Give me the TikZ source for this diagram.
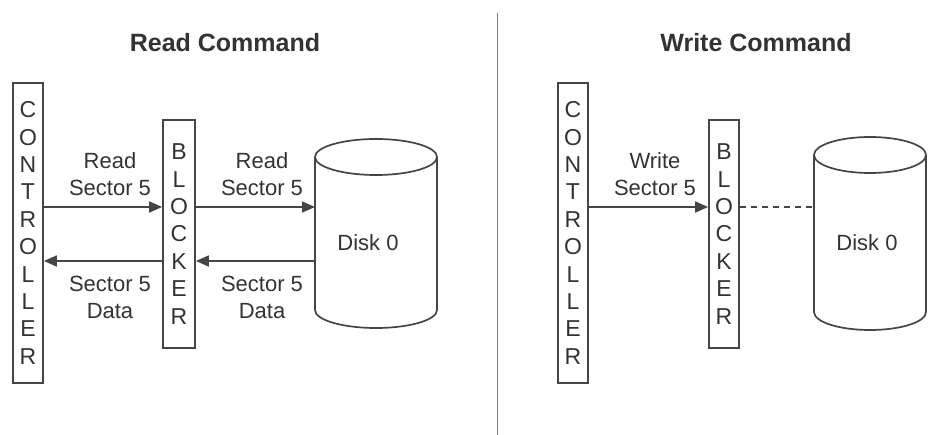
\documentclass[tikz,border=0pt]{standalone}
\usepackage{fontspec}
\setmainfont{Liberation Sans}
\usetikzlibrary{arrows.meta}
\definecolor{ink}{HTML}{333333}
\definecolor{lineink}{HTML}{454545}
\begin{document}
\begin{tikzpicture}[x=1pt,y=-1pt,
  ln/.style={draw=lineink,line width=1.7pt},
  arr/.style={ln,-{Triangle[length=13pt,width=11pt]}},
  title/.style={text=ink,font=\fontsize{25}{30}\selectfont\bfseries,inner sep=0pt},
  lbl/.style={text=ink,font=\fontsize{22}{27}\selectfont,align=center,inner sep=0pt},
  vbox/.style={draw=lineink,line width=1.7pt,minimum width=30pt,inner sep=0pt,text=ink,
     font=\fontsize{23}{27.4}\selectfont,align=center}
]
\useasboundingbox (0,0) rectangle (928,435);
\fill[white] (0,0) rectangle (928,435);

% divider
\draw[draw=lineink!70,line width=1pt] (497,13) -- (497,435);

% ===== Read command =====
\node[title] (t1) at (225,43) {Read Command};
\node[vbox,minimum height=300pt] (ctrlA) at (28,233) {C\\O\\N\\T\\R\\O\\L\\L\\E\\R};
\node[vbox,minimum height=228pt,minimum width=32pt] (blkA) at (179,234) {B\\L\\O\\C\\K\\E\\R};
% disk cylinder
\coordinate (dA) at (376,157);
\draw[ln] (dA) ellipse [x radius=61, y radius=18];
\draw[ln] (315,157) -- (315,310) arc[start angle=180,end angle=0,x radius=61,y radius=18] -- (437,157);
\coordinate (diskAw) at (315,233);
\node[lbl] (dlA) at (368,243) {Disk 0};
\coordinate (upA) at (0,207);
\coordinate (loA) at (0,261);
\draw[arr] (ctrlA.east |- upA) -- (blkA.west |- upA);
\draw[arr] (blkA.east |- upA) -- (diskAw |- upA);
\draw[arr] (diskAw |- loA) -- (blkA.east |- loA);
\draw[arr] (blkA.west |- loA) -- (ctrlA.east |- loA);
\node[lbl] (l1) at (110,174) {Read\\Sector 5};
\node[lbl] (l2) at (262,174) {Read\\Sector 5};
\node[lbl] (l3) at (110,297) {Sector 5\\Data};
\node[lbl] (l4) at (262,297) {Sector 5\\Data};

% ===== Write command =====
\node[title] (t2) at (756,43) {Write Command};
\node[vbox,minimum height=300pt] (ctrlB) at (573,233) {C\\O\\N\\T\\R\\O\\L\\L\\E\\R};
\node[vbox,minimum height=228pt] (blkB) at (724,234) {B\\L\\O\\C\\K\\E\\R};
\coordinate (dB) at (870,155);
\draw[ln] (dB) ellipse [x radius=56, y radius=18];
\draw[ln] (814,155) -- (814,312) arc[start angle=180,end angle=0,x radius=56,y radius=18] -- (926,155);
\coordinate (diskBw) at (814,233);
\node[lbl] (dlB) at (867,243) {Disk 0};
\draw[arr] (ctrlB.east |- upA) -- (blkB.west |- upA);
\draw[ln,dash pattern=on 6pt off 5pt] (blkB.east |- upA) -- (diskBw |- upA);
\node[lbl] (l5) at (655,174) {Write\\Sector 5};
\end{tikzpicture}
\end{document}
